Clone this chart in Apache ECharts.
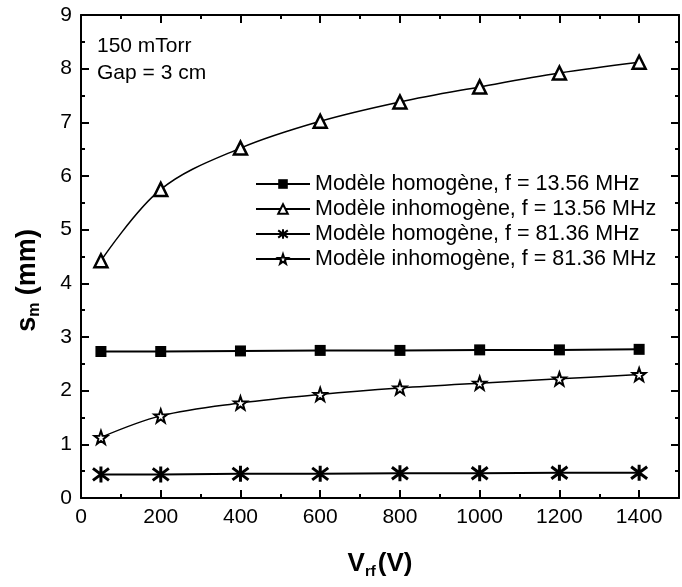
<!DOCTYPE html>
<html>
<head>
<meta charset="utf-8">
<script src="https://cdn.jsdelivr.net/npm/echarts@6/dist/echarts.min.js"></script>
<style>html,body{margin:0;padding:0;background:#fff}#c{width:682px;height:587px}</style>
</head>
<body>
<div id="c"></div>
<script>
var vrf = [50, 200, 400, 600, 800, 1000, 1200, 1400];
var homo1356 = [2.73, 2.73, 2.74, 2.75, 2.75, 2.76, 2.76, 2.77];
var inhomo1356 = [4.42, 5.75, 6.52, 7.02, 7.38, 7.66, 7.92, 8.12];
var homo8136 = [0.44, 0.44, 0.45, 0.45, 0.46, 0.46, 0.47, 0.47];
var inhomo8136 = [1.13, 1.53, 1.77, 1.93, 2.05, 2.14, 2.22, 2.30];
var seriesNames = ['Modèle homogène, f = 13.56 MHz', 'Modèle inhomogène, f = 13.56 MHz', 'Modèle homogène, f = 81.36 MHz', 'Modèle inhomogène, f = 81.36 MHz'];
var xTicks = [0, 200, 400, 600, 800, 1000, 1200, 1400];
var yTicks = [0, 1, 2, 3, 4, 5, 6, 7, 8, 9];

function pairs(xs, ys) { return xs.map(function (x, i) { return [x, ys[i]]; }); }
var FONT = '"Liberation Sans", Arial, sans-serif';
var starPath = 'path://M0,-10L2.35,-3.24L9.51,-3.09L3.8,1.24L5.88,8.09L0,4L-5.88,8.09L-3.8,1.24L-9.51,-3.09L-2.35,-3.24Z';
var astPath = 'path://M0,-10L0,10M-7.5,-7.5L7.5,7.5M-7.5,7.5L7.5,-7.5';

var axisCommon = {
  axisLine: { show: true, onZero: false, lineStyle: { color: '#000', width: 2 } },
  axisTick: { show: true, inside: true, length: 8, lineStyle: { color: '#000', width: 2 } },
  minorTick: { show: true, splitNumber: 2, length: 4, lineStyle: { color: '#000', width: 2 } },
  splitLine: { show: false }
};
function mk(base, extra) { return Object.assign({}, JSON.parse(JSON.stringify(base)), extra); }

var chart = echarts.init(document.getElementById('c'));
chart.setOption({
  animation: false,
  backgroundColor: '#fff',
  grid: { left: 81, right: 3, top: 15, bottom: 89 },
  xAxis: [
    mk(axisCommon, {
      type: 'value', min: 0, max: 1500, interval: 200, position: 'bottom',
      axisLabel: { color: '#000', fontSize: 21, fontFamily: FONT, margin: 9, showMaxLabel: false,
        formatter: function (v) { return xTicks.indexOf(v) >= 0 ? String(v) : ''; } },
      name: '{a|V}{b|rf}{a|(V)}', nameLocation: 'middle', nameGap: 50,
      nameTextStyle: { rich: {
        a: { fontSize: 26, fontWeight: 'bold', fontFamily: FONT, color: '#000' },
        b: { fontSize: 15, fontWeight: 'bold', fontFamily: FONT, color: '#000', padding: [16, 2, 0, 0] } } }
    }),
    mk(axisCommon, { type: 'value', min: 0, max: 1500, interval: 200, position: 'top', axisLabel: { show: false } })
  ],
  yAxis: [
    mk(axisCommon, {
      type: 'value', min: 0, max: 9, interval: 1, position: 'left',
      axisLabel: { color: '#000', fontSize: 21, fontFamily: FONT, margin: 9,
        formatter: function (v) { return yTicks.indexOf(v) >= 0 ? String(v) : ''; } },
      name: '{a|s}{b|m}{a| (mm)}', nameLocation: 'middle', nameGap: 38, nameRotate: 90,
      nameTextStyle: { padding: [0, 48, 0, 0], rich: {
        a: { fontSize: 27, fontWeight: 'bold', fontFamily: FONT, color: '#000' },
        b: { fontSize: 16, fontWeight: 'bold', fontFamily: FONT, color: '#000', padding: [14, 0, 0, 0] } } }
    }),
    mk(axisCommon, { type: 'value', min: 0, max: 9, interval: 1, position: 'right', axisLabel: { show: false } })
  ],
  legend: {
    orient: 'vertical', left: 250, top: 168, itemWidth: 54, itemHeight: 12, itemGap: 3,
    textStyle: { fontSize: 21.5, fontFamily: FONT, color: '#000', lineHeight: 22 },
    data: seriesNames
  },
  graphic: [
    { type: 'text', left: 97, top: 36, style: { text: '150 mTorr', fontSize: 21, fontFamily: FONT, fill: '#000' } },
    { type: 'text', left: 97, top: 63, style: { text: 'Gap = 3 cm', fontSize: 21, fontFamily: FONT, fill: '#000' } }
  ],
  series: [
    { name: seriesNames[0], type: 'line', data: pairs(vrf, homo1356), symbol: 'rect', symbolSize: 11,
      itemStyle: { color: '#000' }, lineStyle: { color: '#000', width: 2 } },
    { name: seriesNames[1], type: 'line', data: pairs(vrf, inhomo1356), smooth: 0.35, symbol: 'triangle', symbolSize: 13,
      itemStyle: { color: '#fff', borderColor: '#000', borderWidth: 2.5 }, lineStyle: { color: '#000', width: 1.5 } },
    { name: seriesNames[2], type: 'line', data: pairs(vrf, homo8136), symbol: astPath, symbolSize: 16,
      itemStyle: { color: '#000', borderColor: '#000', borderWidth: 3 }, lineStyle: { color: '#000', width: 2 } },
    { name: seriesNames[3], type: 'line', data: pairs(vrf, inhomo8136), smooth: 0.35, symbol: starPath, symbolSize: 13,
      itemStyle: { color: '#fff', borderColor: '#000', borderWidth: 2 }, lineStyle: { color: '#000', width: 1.5 } }
  ]
});
</script>
</body>
</html>
